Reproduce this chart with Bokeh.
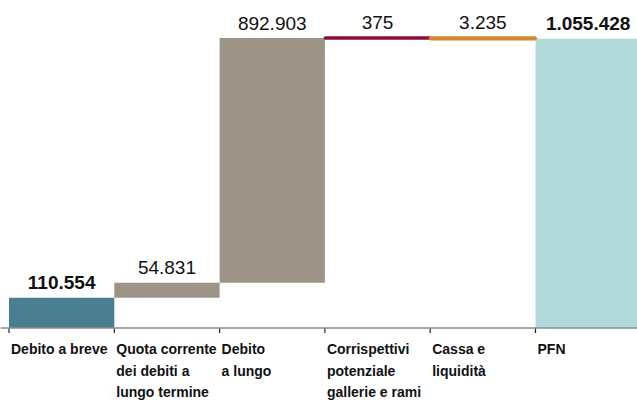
from bokeh.plotting import figure
from bokeh.models import Range1d, Span, ColumnDataSource
from bokeh.core.properties import value
from bokeh.embed import file_html
from bokeh.resources import INLINE

# ---- data -------------------------------------------------------------
categories = [
    "Debito a breve",
    "Quota corrente\ndei debiti a\nlungo termine",
    "Debito\na lungo",
    "Corrispettivi\npotenziale\ngallerie e rami",
    "Cassa e\nliquidità",
    "PFN",
]
# step changes (migliaia di euro); the last category is the resulting total
changes = [110554, 54831, 892903, 375, -3235]
colors = ["#4a7f91", "#9d9488", "#9d9488", "#8e0c3b", "#d18b2c", "#b2d9d9"]
bold_labels = [True, False, False, False, False, True]

# ---- waterfall geometry from the data ---------------------------------
bottoms, tops = [], []
running = 0
for c in changes:
    start = running
    running += c
    bottoms.append(min(start, running))
    tops.append(max(start, running))
total = running
bottoms.append(0)
tops.append(total)
amounts = [t - b for b, t in zip(bottoms, tops)]
labels = [f"{a:,}".replace(",", ".") for a in amounts]
centers = [i + 0.5 for i in range(len(categories))]
bounds = list(range(len(categories)))

# ---- scales -----------------------------------------------------------
W, H = 637, 400
PX = 3650.0                 # data units per pixel on y
CAT = 105.3                 # pixels per category on x
LEFT = 8.5                  # pixels left of the first category boundary
AXIS_FROM_BOTTOM = 72.5     # pixels between axis line and bottom of figure

p = figure(
    width=W, height=H,
    x_range=Range1d(-LEFT / CAT, (W - LEFT) / CAT),
    y_range=Range1d(-AXIS_FROM_BOTTOM * PX, (H - AXIS_FROM_BOTTOM) * PX),
    output_backend="svg", toolbar_location=None,
    x_axis_location=None, y_axis_location=None,
    min_border=0,
)
p.outline_line_color = None
p.background_fill_color = "white"
p.border_fill_color = "white"
p.xgrid.visible = False
p.ygrid.visible = False

big = [i for i, a in enumerate(amounts) if a / PX >= 3]
small = [i for i, a in enumerate(amounts) if a / PX < 3]

def sub(idx):
    return ColumnDataSource(dict(
        x=[centers[i] for i in idx],
        top=[tops[i] for i in idx],
        bottom=[bottoms[i] for i in idx],
        color=[colors[i] for i in idx],
    ))

p.vbar(x="x", top="top", bottom="bottom", width=1.0, source=sub(big),
       fill_color="color", line_color=None)
p.vbar(x="x", top="top", bottom="bottom", width=1.0, source=sub(small),
       fill_color="color", line_color="color", line_width=3.2)

# value labels
for is_bold in (True, False):
    idx = [i for i in range(len(categories)) if bold_labels[i] == is_bold]
    p.text(x=[centers[i] for i in idx], y=[tops[i] + 15 * PX for i in idx],
           text=[labels[i] for i in idx],
           text_align="center", text_baseline="alphabetic",
           text_font=value("Liberation Sans"), text_font_size="19px",
           text_font_style="bold" if is_bold else "normal",
           text_color="#111111")

# axis line and ticks
p.add_layout(Span(location=0, dimension="width", line_color="#8c8c8c", line_width=1.5))
p.segment(x0=bounds, y0=[0] * len(bounds), x1=bounds, y1=[-5 * PX] * len(bounds),
          line_color="#222222", line_width=1.2)

# category labels
p.text(x=bounds, y=[-13 * PX] * len(bounds), text=categories, x_offset=2,
       text_align="left", text_baseline="top",
       text_font=value("Liberation Sans"), text_font_size="14px",
       text_font_style="bold", text_color="#111111", text_line_height=1.35)

open("out.html", "w").write(file_html(p, INLINE))
